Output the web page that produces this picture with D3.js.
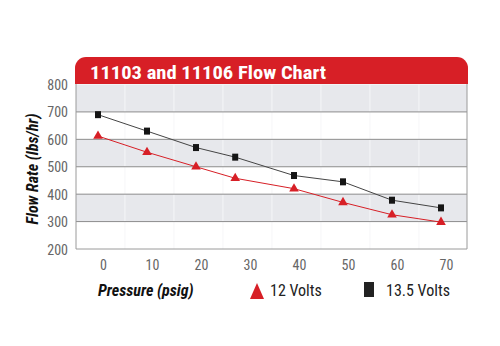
<!DOCTYPE html>
<html><head><meta charset="utf-8">
<script src="https://cdn.jsdelivr.net/npm/d3@7"></script>
<style>html,body{margin:0;padding:0;background:#fff;}svg{display:block;}</style>
</head><body>
<svg id="c" width="500" height="346"></svg>
<script>
const title = "11103 and 11106 Flow Chart";
const pressure = [0, 10, 20, 28, 40, 50, 60, 70];
const volts12 = [612, 553, 500, 458, 420, 370, 325, 298];
const volts135 = [690, 630, 570, 535, 468, 445, 378, 350];
const xTicks = [0, 10, 20, 30, 40, 50, 60, 70];
const yTicks = [200, 300, 400, 500, 600, 700, 800];
const bandStarts = [700, 500, 300];
const vLines = [5.5, 15.5, 25.5, 35.5, 45.5, 55.5, 65.5];
const seriesNames = ["12 Volts", "13.5 Volts"];
const xTitle = "Pressure (psig)";
const yTitle = "Flow Rate (lbs/hr)";

const svg = d3.select("#c");
const L = 76, R = 467, T = 84.5, B = 249;
const x = d3.scaleLinear().domain([0, 70]).range([98, 441]);
const y = d3.scaleLinear().domain([200, 800]).range([B, T]);
const font = "'Liberation Sans Narrow','Arial Narrow','Roboto Condensed','Liberation Sans',sans-serif";
const red = "#d71f26";

// header
const hp = d3.path();
const hT = 57, hB = 84, r = 11;
hp.moveTo(L - 1, hB);
hp.lineTo(L - 1, hT + r);
hp.arcTo(L - 1, hT, L - 1 + r, hT, r);
hp.lineTo(R + 1 - r, hT);
hp.arcTo(R + 1, hT, R + 1, hT + r, r);
hp.lineTo(R + 1, hB);
hp.closePath();
svg.append("path").attr("d", hp.toString()).attr("fill", red);
svg.append("text").attr("x", 90).attr("y", 79).attr("fill", "#fff")
  .attr("font-family", font).attr("font-weight", "bold").attr("font-size", 19)
  .attr("textLength", 236).attr("lengthAdjust", "spacingAndGlyphs").text(title);

// bands
svg.selectAll("rect.band").data(bandStarts).join("rect").attr("class", "band")
  .attr("x", L).attr("width", R - L)
  .attr("y", d => y(d + 100)).attr("height", d => y(d) - y(d + 100))
  .attr("fill", "#e7e8ec");
svg.selectAll("line.v").data(vLines).join("line").attr("class", "v")
  .attr("x1", d => x(d)).attr("x2", d => x(d)).attr("y1", T).attr("y2", B)
  .attr("stroke", "#f6f6f8").attr("stroke-width", 1);

// gridlines
svg.selectAll("line.g").data(yTicks.filter(d => d > 200 && d < 800)).join("line").attr("class", "g")
  .attr("x1", L).attr("x2", R).attr("y1", d => y(d)).attr("y2", d => y(d))
  .attr("stroke", "#8c8c8c").attr("stroke-width", 1);
// frame
svg.append("path").attr("d", `M${L},${hB}V${B}H${R}V${hB}`).attr("fill", "none")
  .attr("stroke", "#9a9a9a").attr("stroke-width", 1);

// y axis labels
const yAxis = d3.axisLeft(y).tickValues(yTicks).tickSize(0).tickPadding(0);
const ya = svg.append("g").attr("transform", `translate(68,0)`).call(yAxis);
ya.select(".domain").remove();
ya.selectAll("text").attr("font-family", font).attr("font-size", 14).attr("fill", "#666").attr("dy", "0.36em");

// x axis labels
const xAxis = d3.axisBottom(x).tickValues(xTicks).tickSize(0).tickPadding(0).tickFormat(d3.format("d"));
const xa = svg.append("g").attr("transform", `translate(5,259)`).call(xAxis);
xa.select(".domain").remove();
xa.selectAll("text").attr("font-family", font).attr("font-size", 14).attr("fill", "#666").attr("dy", "0.8em");

// axis titles
svg.append("text").attr("transform", "translate(38,169) rotate(-90)").attr("text-anchor", "middle")
  .attr("font-family", font).attr("font-weight", "bold").attr("font-style", "italic").attr("font-size", 16)
  .attr("fill", "#111").text(yTitle);
svg.append("text").attr("x", 98).attr("y", 296)
  .attr("font-family", font).attr("font-weight", "bold").attr("font-style", "italic").attr("font-size", 16)
  .attr("fill", "#111").text(xTitle);

// lines
const line = d3.line().x(d => x(d[0])).y(d => y(d[1]));
svg.append("path").datum(pressure.map((p, i) => [p, volts135[i]])).attr("d", line)
  .attr("fill", "none").attr("stroke", "#444").attr("stroke-width", 1);
svg.append("path").datum(pressure.map((p, i) => [p, volts12[i]])).attr("d", line)
  .attr("fill", "none").attr("stroke", red).attr("stroke-width", 1);

// markers
svg.selectAll("rect.sq").data(pressure.map((p, i) => [p, volts135[i]])).join("rect").attr("class", "sq")
  .attr("x", d => x(d[0]) - 3).attr("y", d => y(d[1]) - 3.5).attr("width", 6).attr("height", 7)
  .attr("fill", "#151515");
const tri = d3.symbol().type(d3.symbolTriangle).size(40);
svg.selectAll("path.tr").data(pressure.map((p, i) => [p, volts12[i]])).join("path").attr("class", "tr")
  .attr("d", tri).attr("transform", d => `translate(${x(d[0])},${y(d[1])})`).attr("fill", red);

// legend
svg.append("path").attr("d", "M257,283L264,299L250,299Z").attr("fill", red);
svg.append("text").attr("x", 270).attr("y", 296).attr("font-family", font).attr("font-size", 16)
  .attr("fill", "#222").text(seriesNames[0]);
svg.append("rect").attr("x", 364).attr("y", 282).attr("width", 10).attr("height", 15).attr("fill", "#222");
svg.append("text").attr("x", 386).attr("y", 296).attr("font-family", font).attr("font-size", 16)
  .attr("fill", "#222").text(seriesNames[1]);
</script>
</body></html>
